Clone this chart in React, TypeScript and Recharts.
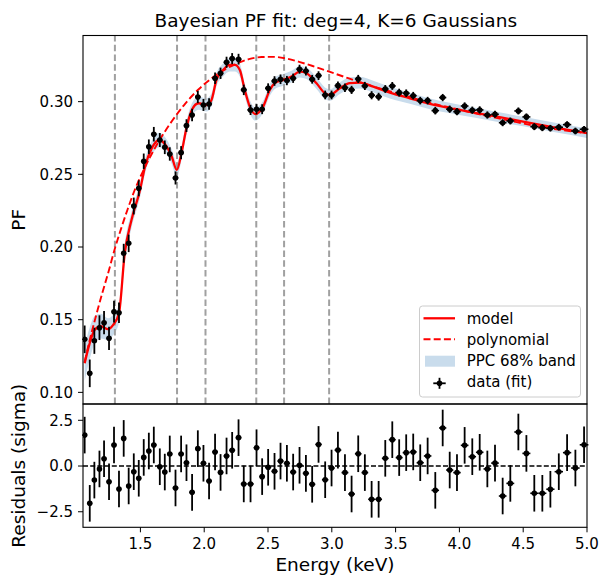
import React from "react";
import {
  ComposedChart,
  Line,
  Area,
  Scatter,
  XAxis,
  YAxis,
  ErrorBar,
  ReferenceLine,
} from "recharts";

// Binned pulsed-fraction measurements (keV, PF, 1-sigma)
const energy = [
  1.063, 1.103, 1.139, 1.179, 1.215, 1.254, 1.293, 1.332, 1.369, 1.408,
  1.448, 1.487, 1.526, 1.566, 1.605, 1.652, 1.691, 1.73, 1.775, 1.819,
  1.861, 1.905, 1.95, 1.994, 2.038, 2.085, 2.128, 2.175, 2.219, 2.269,
  2.31, 2.363, 2.41, 2.454, 2.501, 2.551, 2.598, 2.648, 2.697, 2.747,
  2.797, 2.846, 2.896, 2.948, 2.998, 3.048, 3.103, 3.155, 3.207, 3.259,
  3.312, 3.367, 3.419, 3.474, 3.528, 3.583, 3.638, 3.693, 3.751, 3.811,
  3.869, 3.924, 3.981, 4.041, 4.101, 4.159, 4.219, 4.279, 4.339, 4.399,
  4.462, 4.525, 4.587, 4.65, 4.713, 4.779, 4.844, 4.909, 4.977,
];

const pf = [
  0.1365, 0.1131, 0.1355, 0.1445, 0.1479, 0.1372, 0.1555, 0.1548, 0.1957, 0.2025,
  0.2282, 0.2404, 0.259, 0.269, 0.2776, 0.2736, 0.2686, 0.264, 0.2475, 0.2649,
  0.2835, 0.2908, 0.3032, 0.2977, 0.2984, 0.3161, 0.3195, 0.3271, 0.3296, 0.3292,
  0.3081, 0.2943, 0.2948, 0.2948, 0.3092, 0.3142, 0.3154, 0.3145, 0.3161, 0.3223,
  0.3211, 0.3154, 0.3179, 0.3046, 0.3046, 0.311, 0.3096, 0.3081, 0.3156, 0.3108,
  0.3044, 0.3034, 0.3087, 0.3108, 0.3062, 0.3058, 0.3041, 0.3007, 0.3007, 0.2938,
  0.3028, 0.2948, 0.2931, 0.297, 0.2941, 0.2943, 0.2908, 0.2913, 0.2855, 0.2867,
  0.2936, 0.2895, 0.2828, 0.2821, 0.2817, 0.2824, 0.2842, 0.2798, 0.281,
];

const pfErr = [
  0.0095, 0.0095, 0.009, 0.0085, 0.008, 0.008, 0.0075, 0.007, 0.0065, 0.006,
  0.0058, 0.0055, 0.0053, 0.005, 0.005, 0.0048, 0.0047, 0.0046, 0.0045, 0.0045,
  0.0044, 0.0043, 0.0042, 0.0041, 0.004, 0.004, 0.0039, 0.0038, 0.0038, 0.0037,
  0.0036, 0.0035, 0.0035, 0.0034, 0.0034, 0.0033, 0.0033, 0.0032, 0.0032, 0.0031,
  0.0031, 0.003, 0.003, 0.003, 0.003, 0.0029, 0.0029, 0.0028, 0.0028, 0.0028,
  0.0028, 0.0027, 0.0027, 0.0027, 0.0027, 0.0026, 0.0026, 0.0026, 0.0026, 0.0026,
  0.0025, 0.0025, 0.0025, 0.0025, 0.0025, 0.0025, 0.0025, 0.0024, 0.0024, 0.0024,
  0.0024, 0.0024, 0.0024, 0.0024, 0.0023, 0.0023, 0.0023, 0.0023, 0.0023,
];

// (data - model) / sigma
const resid = [
  1.69, -2.04, -0.77, -0.16, 0.4, -0.86, 1.15, -1.26, 1.51, -1.09,
  -0.31, -0.67, 0.47, 0.82, 1.15, -0.04, -0.33, 0.66, -1.2, 0.66,
  0.18, -1.44, 0.95, 0.15, -0.82, 0.77, -0.35, 0.55, 0.86, 1.55,
  -0.98, -0.98, 1.0, -0.58, -0.07, -0.29, 0.27, 0.15, -0.33, 0.04,
  -0.4, -1.0, 1.18, -0.75, -0.11, 0.87, -0.36, -1.53, 0.67, -0.36,
  -1.82, -1.82, 0.42, 1.44, 0.46, 0.73, 0.77, 0.18, 0.55, -1.33,
  2.08, -0.22, -0.36, 1.13, 0.51, 0.75, -0.16, 0.16, -1.64, -0.95,
  1.86, 0.69, -1.49, -1.49, -1.27, -0.31, 0.73, -0.11, 1.16,
];

// posterior median model and PPC 68% half-width
const modelE = [
  1.063, 1.1, 1.142, 1.19, 1.246, 1.285, 1.332, 1.377, 1.43, 1.497,
  1.536, 1.589, 1.646, 1.706, 1.746, 1.785, 1.824, 1.863, 1.903, 1.955,
  2.018, 2.057, 2.096, 2.148, 2.2, 2.24, 2.279, 2.318, 2.357, 2.4,
  2.462, 2.514, 2.553, 2.619, 2.684, 2.75, 2.802, 2.88, 2.946, 2.985,
  3.063, 3.142, 3.22, 3.325, 3.455, 3.612, 3.769, 4.0, 4.25, 4.5,
  4.75, 5.0,
];
const modelPF = [
  0.12, 0.133, 0.143, 0.1455, 0.1435, 0.1463, 0.1544, 0.1957, 0.2186, 0.2392,
  0.2553, 0.2679, 0.2736, 0.269, 0.2621, 0.253, 0.2656, 0.2828, 0.2943, 0.2989,
  0.2977, 0.3012, 0.315, 0.3218, 0.3253, 0.3253, 0.3218, 0.308, 0.2966, 0.2915,
  0.2966, 0.308, 0.3127, 0.315, 0.3172, 0.3206, 0.3195, 0.3127, 0.3058, 0.3046,
  0.3092, 0.3127, 0.3131, 0.3103, 0.3062, 0.3023, 0.2984, 0.2943, 0.2903, 0.2863,
  0.2822, 0.2783,
];
const bandHalf = [
  0.012, 0.011, 0.0095, 0.0085, 0.0075, 0.007, 0.0065, 0.006, 0.0055, 0.005,
  0.005, 0.005, 0.005, 0.005, 0.005, 0.005, 0.0047, 0.0047, 0.0045, 0.0045,
  0.0045, 0.0045, 0.0045, 0.0045, 0.0045, 0.0045, 0.0045, 0.0045, 0.0045, 0.0045,
  0.004, 0.004, 0.004, 0.004, 0.004, 0.004, 0.004, 0.004, 0.004, 0.004,
  0.004, 0.004, 0.004, 0.004, 0.004, 0.0038, 0.0037, 0.0035, 0.0034, 0.0033,
  0.0033, 0.0033,
];

// deg-4 polynomial continuum
const polyE = [
  1.063, 1.1, 1.15, 1.2, 1.25, 1.3, 1.35, 1.4, 1.45, 1.55, 1.65, 1.75, 1.85,
  1.95, 2.05, 2.15, 2.25, 2.35, 2.45, 2.55, 2.65, 2.75, 2.85, 2.95, 3.05,
  3.15, 3.25, 3.4, 3.6, 3.8, 4.0, 4.2, 4.4, 4.6, 4.8, 5.0,
];
const polyPF = [
  0.121, 0.135, 0.152, 0.168, 0.183, 0.199, 0.213, 0.226, 0.238, 0.2575, 0.2735,
  0.287, 0.2985, 0.308, 0.3155, 0.3215, 0.326, 0.3292, 0.3307, 0.3308, 0.3295,
  0.3272, 0.3245, 0.3215, 0.3185, 0.3155, 0.3125, 0.3085, 0.3035, 0.2985,
  0.2945, 0.2905, 0.2868, 0.2832, 0.2805, 0.2783,
];

// Gaussian line centres (keV)
const lineCenters = [1.3, 1.787, 2.01, 2.408, 2.626, 2.979];

const energyTicks = [1.5, 2.0, 2.5, 3.0, 3.5, 4.0, 4.5, 5.0];
const pfTicks = [0.1, 0.15, 0.2, 0.25, 0.3];
const residTicks = [-2.5, 0, 2.5];

const E_DOMAIN: [number, number] = [1.05, 5.0];
const PF_DOMAIN: [number, number] = [0.092, 0.3455];
const R_DOMAIN: [number, number] = [-3.35, 3.39];

const FONT = "'DejaVu Sans', sans-serif";
const RED = "#ff0000";
const BAND = "#c9dcec";

// axes boxes in page pixels
const LEFT = 83;
const RIGHT = 587;
const TOP = 35.5;
const SPLIT = 404;
const BOTTOM = 527.3;

// half bin width from neighbouring bin centres
const binHalf = energy.map((e, i) => {
  const lo = i > 0 ? energy[i - 1] : e - (energy[1] - e);
  const hi = i < energy.length - 1 ? energy[i + 1] : e + (e - energy[i - 1]);
  return (hi - lo) / 4;
});

const pfRows = energy.map((e, i) => ({ e, pf: pf[i], err: pfErr[i], xerr: binHalf[i] }));
const residRows = energy.map((e, i) => ({ e, r: resid[i], err: 1, xerr: binHalf[i] }));
const curveRows = modelE.map((e, i) => ({
  e,
  model: modelPF[i],
  band: [modelPF[i] - bandHalf[i], modelPF[i] + bandHalf[i]],
}));
const polyRows = polyE.map((e, i) => ({ e, poly: polyPF[i] }));

const dotShape = (p: any) => <circle cx={p.cx} cy={p.cy} r={2.8} fill="#000" />;

const tickStyle = { fontSize: 15, fill: "#000", fontFamily: FONT };
const fmtResid = (v: number) =>
  v === 0 ? "0.0" : v < 0 ? "\u2212" + Math.abs(v).toFixed(1) : v.toFixed(1);

function FitPanel() {
  return (
    <ComposedChart
      width={603}
      height={SPLIT + 2}
      data={curveRows}
      margin={{ top: TOP, right: 603 - RIGHT, bottom: 2, left: 0 }}
    >
      <XAxis dataKey="e" type="number" domain={E_DOMAIN} allowDataOverflow hide />
      <YAxis
        type="number"
        domain={PF_DOMAIN}
        allowDataOverflow
        ticks={pfTicks}
        interval={0}
        width={LEFT}
        tickFormatter={(v: number) => v.toFixed(2)}
        tick={tickStyle}
        tickSize={5}
        tickMargin={5}
        tickLine={{ stroke: "#000" }}
        axisLine={false}
      />
      {lineCenters.map((c) => (
        <ReferenceLine
          key={c}
          x={c}
          stroke="#a0a0a0"
          strokeWidth={2}
          strokeDasharray="6.5 3.3"
        />
      ))}
      <Area
        type="monotone"
        dataKey="band"
        stroke="none"
        fill={BAND}
        fillOpacity={1}
        isAnimationActive={false}
      />
      <Line
        data={polyRows}
        type="monotone"
        dataKey="poly"
        stroke={RED}
        strokeWidth={1.9}
        strokeDasharray="7 3.2"
        dot={false}
        isAnimationActive={false}
      />
      <Line
        type="monotone"
        dataKey="model"
        stroke={RED}
        strokeWidth={2.3}
        dot={false}
        isAnimationActive={false}
      />
      <Scatter data={pfRows} dataKey="pf" shape={dotShape} isAnimationActive={false}>
        <ErrorBar dataKey="err" direction="y" width={0} stroke="#000" strokeWidth={1.8} />
        <ErrorBar dataKey="xerr" direction="x" width={0} stroke="#000" strokeWidth={1.6} />
      </Scatter>
    </ComposedChart>
  );
}

function ResidPanel() {
  return (
    <ComposedChart
      width={603}
      height={180}
      data={residRows}
      margin={{ top: SPLIT - 396, right: 603 - RIGHT, bottom: 0, left: 0 }}
    >
      <XAxis
        dataKey="e"
        type="number"
        domain={E_DOMAIN}
        allowDataOverflow
        ticks={energyTicks}
        interval={0}
        height={576 - BOTTOM}
        tickFormatter={(v: number) => v.toFixed(1)}
        tick={tickStyle}
        tickSize={5}
        tickMargin={6}
        tickLine={{ stroke: "#000" }}
        axisLine={false}
      />
      <YAxis
        type="number"
        domain={R_DOMAIN}
        allowDataOverflow
        ticks={residTicks}
        interval={0}
        width={LEFT}
        tickFormatter={fmtResid}
        tick={tickStyle}
        tickSize={5}
        tickMargin={5}
        tickLine={{ stroke: "#000" }}
        axisLine={false}
      />
      <ReferenceLine y={0} stroke="#000" strokeWidth={1.3} strokeDasharray="5 2.2" />
      <Scatter data={residRows} dataKey="r" shape={dotShape} isAnimationActive={false}>
        <ErrorBar dataKey="err" direction="y" width={0} stroke="#000" strokeWidth={1.8} />
        <ErrorBar dataKey="xerr" direction="x" width={0} stroke="#000" strokeWidth={1.6} />
      </Scatter>
    </ComposedChart>
  );
}

function Overlay() {
  const legendRows = [
    { label: "model", y: 323.5 },
    { label: "polynomial", y: 344.8 },
    { label: "PPC 68% band", y: 366.1 },
    { label: "data (fit)", y: 387.4 },
  ];
  return (
    <svg
      width={603}
      height={576}
      style={{ position: "absolute", left: 0, top: 0, pointerEvents: "none" }}
      fontFamily={FONT}
    >
      {/* axes frames */}
      <rect
        x={LEFT}
        y={TOP}
        width={RIGHT - LEFT}
        height={SPLIT - TOP}
        fill="none"
        stroke="#000"
        strokeWidth={1.1}
      />
      <rect
        x={LEFT}
        y={SPLIT}
        width={RIGHT - LEFT}
        height={BOTTOM - SPLIT}
        fill="none"
        stroke="#000"
        strokeWidth={1.1}
      />

      <text x={335.8} y={27} textAnchor="middle" fontSize={18.5} fill="#000">
        Bayesian PF fit: deg=4, K=6 Gaussians
      </text>
      <text
        transform="translate(24.5,219.75) rotate(-90)"
        textAnchor="middle"
        fontSize={18.5}
        fill="#000"
      >
        PF
      </text>
      <text
        transform="translate(24.5,465.7) rotate(-90)"
        textAnchor="middle"
        fontSize={18.5}
        fill="#000"
      >
        Residuals (sigma)
      </text>
      <text x={335} y={571} textAnchor="middle" fontSize={18.5} fill="#000">
        Energy (keV)
      </text>

      <rect
        x={419.5}
        y={306}
        width={161}
        height={91}
        rx={3}
        fill="#fff"
        fillOpacity={0.8}
        stroke="#cccccc"
        strokeWidth={1}
      />
      <line x1={423.5} x2={455} y1={318.3} y2={318.3} stroke={RED} strokeWidth={2.3} />
      <line
        x1={423.5}
        x2={455}
        y1={339.3}
        y2={339.3}
        stroke={RED}
        strokeWidth={1.9}
        strokeDasharray="7 3.2"
      />
      <rect x={425} y={355.7} width={30} height={11} fill={BAND} />
      <line x1={433.3} x2={445.7} y1={383.3} y2={383.3} stroke="#000" strokeWidth={1.8} />
      <line x1={439.5} x2={439.5} y1={377.8} y2={388.8} stroke="#000" strokeWidth={1.8} />
      <circle cx={439.5} cy={383.3} r={2.8} fill="#000" />
      {legendRows.map((r) => (
        <text key={r.label} x={466.7} y={r.y} fontSize={15} fill="#000">
          {r.label}
        </text>
      ))}
    </svg>
  );
}

export default function App() {
  return (
    <div
      style={{
        position: "absolute",
        left: 0,
        top: 0,
        width: 603,
        height: 576,
        background: "#fff",
        fontFamily: FONT,
      }}
    >
      <div style={{ position: "absolute", left: 0, top: 0 }}>
        <FitPanel />
      </div>
      <div style={{ position: "absolute", left: 0, top: 396 }}>
        <ResidPanel />
      </div>
      <Overlay />
    </div>
  );
}
